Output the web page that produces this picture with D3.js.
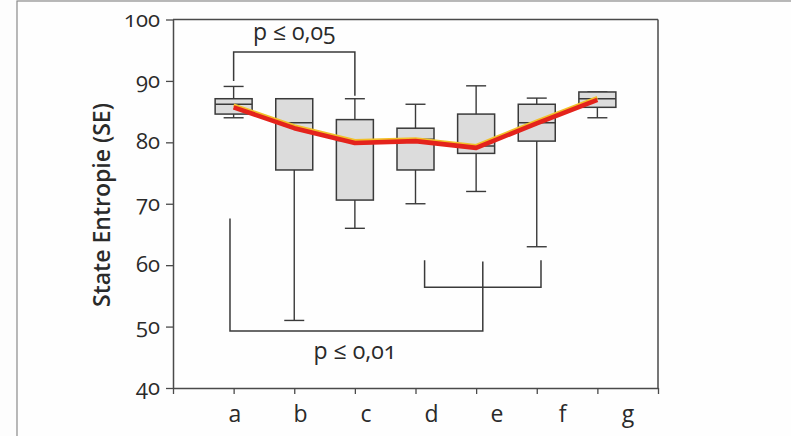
<!DOCTYPE html>
<html>
  <head>
    <meta charset="utf-8">
    <title>State Entropie</title>
    <script src="https://cdnjs.cloudflare.com/ajax/libs/d3/7.8.5/d3.min.js"></script>
    <style>
      body { margin: 0; background: #fdfdfd; }
      text { font-family: "Open Sans", sans-serif; fill: #2a2a2a; font-feature-settings: "onum"; }
    </style>
  </head>
  <body>
    <div id="chart"></div>
    <script type="text/javascript">
      // groups a..g, box stats
      var categories = ["a", "b", "c", "d", "e", "f", "g"];
      var whiskerLow = [84, 51, 66, 70, 72, 63, 84];
      var q1 = [84.6, 75.5, 70.6, 75.5, 78.2, 80.2, 85.7];
      var median = [86.2, 83.2, 80.3, 80.5, 79.4, 83.2, 87.1];
      var q3 = [87.1, 87.1, 83.7, 82.3, 84.6, 86.2, 88.2];
      var whiskerHigh = [89.1, 87.1, 87.1, 86.2, 89.2, 87.2, 88.2];
      var means = [85.8, 82.4, 80.0, 80.3, 79.2, 83.2, 87.0];
      var yTicks = [40, 50, 60, 70, 80, 90, 100];

      var w = 791, h = 436;

      var svg = d3.select("#chart").append("svg")
        .attr("width", w)
        .attr("height", h);

      // page frame
      svg.append("rect")
        .attr("x", 17).attr("y", 1)
        .attr("width", 900).attr("height", 500)
        .attr("fill", "#fefefe")
        .attr("stroke", "#8a8a8a")
        .attr("stroke-width", 1.2);

      // category index 1..7, axis runs 0..8
      var x = d3.scaleLinear().domain([0, 8]).range([173, 658]);
      var y = d3.scaleLinear().domain([40, 100]).range([388, 19.5]);
      // the labels sit a little wider than the ticks in the original
      var xLabel = d3.scalePoint().domain(categories).range([235, 628]);

      var axisColor = "#4a4a4a";

      // top and right frame of the plot
      svg.append("line")
        .attr("x1", x(0)).attr("x2", x(8))
        .attr("y1", y(100)).attr("y2", y(100))
        .attr("stroke", axisColor).attr("stroke-width", 1.5);
      svg.append("line")
        .attr("x1", x(8)).attr("x2", x(8))
        .attr("y1", y(100)).attr("y2", y(40))
        .attr("stroke", axisColor).attr("stroke-width", 1.5);

      var yAxis = svg.append("g")
        .attr("transform", "translate(" + x(0) + ",0)")
        .call(d3.axisLeft(y).tickValues(yTicks).tickSize(7).tickSizeOuter(0).tickPadding(6));
      yAxis.selectAll("text").style("font-size", "22px").attr("dy", "0.3em");

      var xAxis = svg.append("g")
        .attr("transform", "translate(0," + y(40) + ")")
        .call(d3.axisBottom(x).tickValues(d3.range(0, 9)).tickSize(6).tickSizeOuter(0).tickFormat(""));

      [yAxis, xAxis].forEach(function(g) {
        g.select(".domain").attr("stroke", axisColor).attr("stroke-width", 1.5);
        g.selectAll(".tick line").attr("stroke", axisColor).attr("stroke-width", 1.3);
      });

      svg.selectAll("text.xlab")
        .data(categories)
        .enter()
        .append("text")
        .attr("class", "xlab")
        .attr("x", function(d) { return xLabel(d); })
        .attr("y", 422)
        .attr("text-anchor", "middle")
        .style("font-size", "23px")
        .text(function(d) { return d; });

      svg.append("text")
        .attr("transform", "translate(110," + 205 + ") rotate(-90)")
        .attr("text-anchor", "middle")
        .style("font-size", "23px")
        .style("font-weight", 600)
        .text("State Entropie (SE)");

      // boxplots
      var boxW = 37, capW = 20;
      var boxes = svg.selectAll("g.box")
        .data(categories)
        .enter()
        .append("g")
        .attr("class", "box");

      boxes.append("line")
        .attr("x1", function(d, i) { return x(i + 1); })
        .attr("x2", function(d, i) { return x(i + 1); })
        .attr("y1", function(d, i) { return y(whiskerLow[i]); })
        .attr("y2", function(d, i) { return y(whiskerHigh[i]); })
        .attr("stroke", "#3a3a3a").attr("stroke-width", 1.4);

      [whiskerLow, whiskerHigh].forEach(function(arr) {
        boxes.append("line")
          .attr("x1", function(d, i) { return x(i + 1) - capW / 2; })
          .attr("x2", function(d, i) { return x(i + 1) + capW / 2; })
          .attr("y1", function(d, i) { return y(arr[i]); })
          .attr("y2", function(d, i) { return y(arr[i]); })
          .attr("stroke", "#3a3a3a").attr("stroke-width", 1.4);
      });

      boxes.append("rect")
        .attr("x", function(d, i) { return x(i + 1) - boxW / 2; })
        .attr("y", function(d, i) { return y(q3[i]); })
        .attr("width", boxW)
        .attr("height", function(d, i) { return y(q1[i]) - y(q3[i]); })
        .attr("fill", "#dcdcdc")
        .attr("stroke", "#3a3a3a").attr("stroke-width", 1.5);

      boxes.append("line")
        .attr("x1", function(d, i) { return x(i + 1) - boxW / 2; })
        .attr("x2", function(d, i) { return x(i + 1) + boxW / 2; })
        .attr("y1", function(d, i) { return y(median[i]); })
        .attr("y2", function(d, i) { return y(median[i]); })
        .attr("stroke", "#3a3a3a").attr("stroke-width", 1.5);

      // mean line, thin yellow edge above the red
      var meanLine = d3.line()
        .x(function(d, i) { return x(i + 1); })
        .y(function(d) { return y(d); });

      svg.append("path")
        .datum(means)
        .attr("d", meanLine)
        .attr("transform", "translate(0,-1.6)")
        .attr("fill", "none")
        .attr("stroke", "#f2c12a")
        .attr("stroke-width", 3.5)
        .attr("stroke-linejoin", "round");
      svg.append("path")
        .datum(means)
        .attr("d", meanLine)
        .attr("transform", "translate(0,0.6)")
        .attr("fill", "none")
        .attr("stroke", "#e4231c")
        .attr("stroke-width", 4.6)
        .attr("stroke-linejoin", "round");

      // significance brackets, in [index, value] pairs
      var bracketTop = [[1, 90], [1, 94.7], [3, 94.7], [3, 87.6]];
      var bracketInner = [[4.15, 60.8], [4.15, 56.4], [6.07, 56.4], [6.07, 60.8]];
      var bracketOuter = [[0.94, 67.6], [0.94, 49.3], [5.11, 49.3], [5.11, 60.6]];

      var bl = d3.line()
        .x(function(d) { return x(d[0]); })
        .y(function(d) { return y(d[1]); });

      [bracketTop, bracketInner, bracketOuter].forEach(function(b) {
        svg.append("path")
          .attr("d", bl(b))
          .attr("fill", "none")
          .attr("stroke", "#3a3a3a")
          .attr("stroke-width", 1.5);
      });

      svg.append("text")
        .attr("x", x(2))
        .attr("y", y(96.6))
        .attr("text-anchor", "middle")
        .style("font-size", "23px")
        .text("p \u2264 0,05");

      svg.append("text")
        .attr("x", x(3))
        .attr("y", y(44.8))
        .attr("text-anchor", "middle")
        .style("font-size", "23px")
        .text("p \u2264 0,01");
    </script>
  </body>
</html>
